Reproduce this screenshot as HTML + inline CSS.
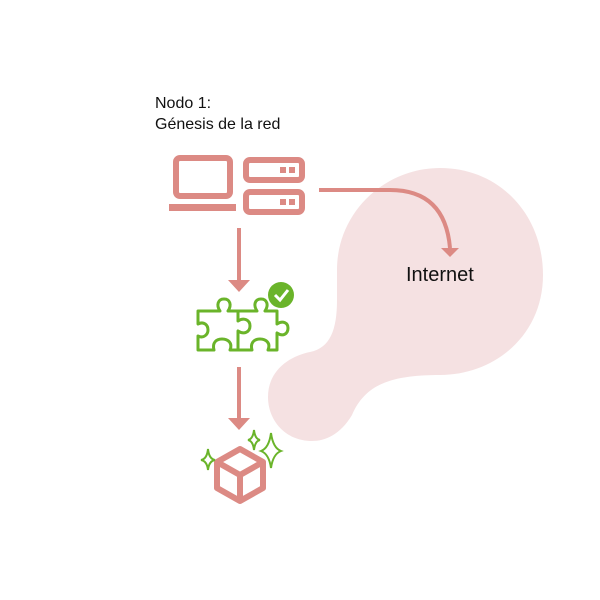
<!DOCTYPE html>
<html><head><style>
body{margin:0;background:#fff;}
svg{display:block}
</style></head><body>
<svg width="600" height="600" viewBox="0 0 600 600" xmlns="http://www.w3.org/2000/svg">
<path d="M440,168 C500,168 543,215 543,275 C543,335 495,375 440,375 C390,375 365,385 352,415 C340,435 325,441 312,441 C285,441 268,420 268,397 C268,370 290,356 310,352 C330,348 337,330 337,300 L337,270 C337,212 385,168 440,168 Z" fill="#f5e1e2"/>
<text x="155" y="108" font-family="Liberation Sans, sans-serif" font-size="16" fill="#111">Nodo 1:</text>
<text x="155" y="129" font-family="Liberation Sans, sans-serif" font-size="16" fill="#111">Génesis de la red</text>
<text x="406" y="281" font-family="Liberation Sans, sans-serif" font-size="20" fill="#111">Internet</text>
<g fill="none" stroke="#dc8a84" stroke-width="6">
<rect x="176" y="158" width="54" height="38" rx="4"/>
<rect x="246" y="160" width="56" height="20" rx="4"/>
<rect x="246" y="192" width="56" height="20" rx="4"/>
</g>
<rect x="169" y="204" width="67" height="7" fill="#dc8a84"/>
<rect x="280" y="167" width="6" height="6" fill="#dc8a84"/><rect x="289" y="167" width="6" height="6" fill="#dc8a84"/>
<rect x="280" y="199" width="6" height="6" fill="#dc8a84"/><rect x="289" y="199" width="6" height="6" fill="#dc8a84"/>
<path d="M319,190 L390,190 Q445,190 450,248" fill="none" stroke="#dc8a84" stroke-width="4"/>
<path d="M441,248 L459,248 L450,257 Z" fill="#dc8a84"/>
<line x1="239" y1="228" x2="239" y2="280" stroke="#dc8a84" stroke-width="4"/>
<path d="M228,280 L250,280 L239,292 Z" fill="#dc8a84"/>
<line x1="239" y1="367" x2="239" y2="418" stroke="#dc8a84" stroke-width="4"/>
<path d="M228,418 L250,418 L239,430 Z" fill="#dc8a84"/>
<g fill="none" stroke="#6ab42a" stroke-width="3" stroke-linejoin="round">
<path d="M198,311 L220,311 C216,305 218,299 224,299 C230,299 232,305 228,311 L238,311 L238,321 C244,317 250,320 250,326 C250,332 244,335 238,331 L238,350 L230,350 C233,343 228,339 222,339 C216,339 212,343 214,350 L198,350 L198,336 C204,339 208,334 208,330 C208,325 204,321 198,324 Z"/>
<path d="M238,311 L257,311 C253,305 255,299 261,299 C267,299 269,305 265,311 L277,311 L277,324 C283,320 288,323 288,328 C288,334 283,337 277,333 L277,350 L268,350 C271,343 266,339 260,339 C254,339 250,343 252,350 L238,350"/>
</g>
<circle cx="281" cy="295" r="13" fill="#6ab42a"/>
<path d="M275,295 L280,300 L288,290" fill="none" stroke="#fff" stroke-width="3"/>
<g fill="none" stroke="#dc8a84" stroke-width="6" stroke-linejoin="round">
<path d="M240,449 L263,462 L263,488 L240,501 L217,488 L217,462 Z"/>
<path d="M217,462 L240,475 L263,462 M240,475 L240,501"/>
</g>
<g fill="none" stroke="#6ab42a" stroke-width="2">
<path d="M208,449 Q209,459 215,460 Q209,461 208,470 Q207,461 201,460 Q207,459 208,449 Z"/>
<path d="M254,430 Q255,439 260,440 Q255,441 254,450 Q253,441 248,440 Q253,439 254,430 Z"/>
<path d="M271,433 Q273,448 281,451 Q273,454 271,468 Q269,454 261,451 Q269,448 271,433 Z"/>
</g>
</svg>
</body></html>
